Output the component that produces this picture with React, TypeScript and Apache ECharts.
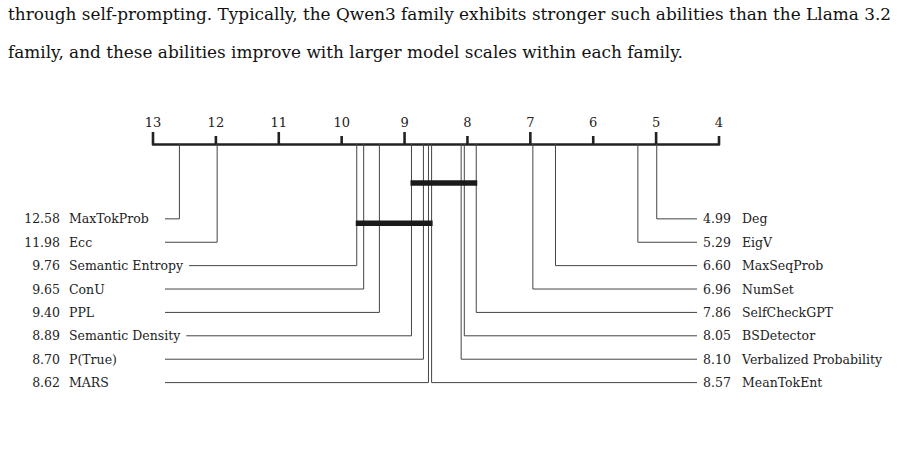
import React, { useEffect, useRef } from "react";
import * as echarts from "echarts";

// ---- data ----
const methods = [
  "MaxTokProb", "Ecc", "Semantic Entropy", "ConU", "PPL", "Semantic Density", "P(True)", "MARS",
  "MeanTokEnt", "Verbalized Probability", "BSDetector", "SelfCheckGPT", "NumSet", "MaxSeqProb", "EigV", "Deg",
];
const avgRanks = [12.58, 11.98, 9.76, 9.65, 9.40, 8.89, 8.70, 8.62, 8.57, 8.10, 8.05, 7.86, 6.96, 6.60, 5.29, 4.99];
const cliqueStart = [8.89, 9.76];
const cliqueEnd = [7.86, 8.57];
const tickValues = [13, 12, 11, 10, 9, 8, 7, 6, 5, 4];
const paragraphLines = [
  "through self-prompting. Typically, the Qwen3 family exhibits stronger such abilities than the Llama 3.2",
  "family, and these abilities improve with larger model scales within each family.",
];

const FONT = '"DejaVu Serif", serif';
const LABEL_SIZE = 12.5;

function measure(text: string, size: number, family: string) {
  const c = document.createElement("canvas");
  const ctx = c.getContext("2d")!;
  ctx.font = `${size}px ${family}`;
  return ctx.measureText(text).width;
}

export default function App() {
  const ref = useRef<HTMLDivElement>(null);
  useEffect(() => {
    const chart = echarts.init(ref.current!, null, { renderer: "svg" });
    const half = methods.length / 2;
    const ROW0 = 3.2; // row offset in y units below axis
    const rows: any[] = [];
    for (let i = 0; i < half; i++) {
      rows.push({ value: [avgRanks[i], ROW0 + i, 0, i] });
    }
    for (let i = 0; i < half; i++) {
      const k = methods.length - 1 - i;
      rows.push({ value: [avgRanks[k], ROW0 + i, 1, k] });
    }
    const cliques = cliqueStart.map((s, i) => ({ value: [s, cliqueEnd[i], 1.667 + i * 1.72] }));

    // fit paragraph font to its width
    const pSize = Math.min(17.5, 884 / measure(paragraphLines[0], 1, FONT));

    const option: any = {
      animation: false,
      backgroundColor: "#ffffff",
      grid: { left: 153, right: 179, top: 144, bottom: 31.3 },
      xAxis: {
        type: "value",
        min: 4,
        max: 13,
        interval: 1,
        inverse: true,
        position: "top",
        axisLine: { show: true, lineStyle: { color: "#222", width: 2.6 } },
        axisTick: { show: false },
        splitLine: { show: false },
        axisLabel: { show: true, margin: 15, color: "#222", fontFamily: FONT, fontSize: 13 },
      },
      yAxis: { type: "value", min: 0, max: 12, inverse: true, show: false },
      graphic: paragraphLines.map((t, i) => ({
        type: "text",
        left: 8,
        top: 5 + i * 38,
        style: { text: t, font: `${pSize}px ${FONT}`, fill: "#111" },
      })),
      series: [
        {
          type: "custom",
          name: "ticks",
          clip: false,
          silent: true,
          data: tickValues.map((v) => ({ value: [v, 0] })),
          renderItem: (params: any, api: any) => {
            const v = api.value(0);
            const p = api.coord([v, 0]);
            const len = Math.round(v) % 2 === 1 ? 12 : 8;
            return {
              type: "line",
              shape: { x1: p[0], y1: p[1], x2: p[0], y2: p[1] - len },
              style: { stroke: "#222", lineWidth: 2.6 },
            };
          },
        },
        {
          type: "custom",
          name: "connectors",
          clip: false,
          silent: true,
          data: rows,
          renderItem: (params: any, api: any) => {
            const rank = api.value(0);
            const row = api.value(1);
            const side = api.value(2);
            const idx = api.value(3);
            const top = api.coord([rank, 0]);
            const bend = api.coord([rank, row]);
            const y = bend[1];
            const num = avgRanks[idx].toFixed(2);
            const name = methods[idx];
            const font = `${LABEL_SIZE}px ${FONT}`;
            let xEnd: number;
            const children: any[] = [];
            if (side === 0) {
              const nameX = 69;
              const w = measure(name, LABEL_SIZE, FONT);
              xEnd = Math.max(165, nameX + w + 6);
              children.push({
                type: "text",
                style: { text: num, x: 60, y, align: "right", verticalAlign: "middle", font, fill: "#222" },
              });
              children.push({
                type: "text",
                style: { text: name, x: nameX, y, align: "left", verticalAlign: "middle", font, fill: "#222" },
              });
            } else {
              xEnd = 697;
              children.push({
                type: "text",
                style: { text: num, x: 703, y, align: "left", verticalAlign: "middle", font, fill: "#222" },
              });
              children.push({
                type: "text",
                style: { text: name, x: 742, y, align: "left", verticalAlign: "middle", font, fill: "#222" },
              });
            }
            children.unshift({
              type: "polyline",
              shape: { points: [[top[0], top[1]], [bend[0], y], [xEnd, y]] },
              style: { stroke: "#444", lineWidth: 1, fill: null },
            });
            return { type: "group", children };
          },
        },
        {
          type: "custom",
          name: "cliques",
          clip: false,
          silent: true,
          data: cliques,
          renderItem: (params: any, api: any) => {
            const a = api.coord([api.value(0), api.value(2)]);
            const b = api.coord([api.value(1), api.value(2)]);
            return {
              type: "line",
              shape: { x1: a[0] - 1, y1: a[1], x2: b[0] + 1, y2: b[1] },
              style: { stroke: "#1a1a1a", lineWidth: 5.5 },
            };
          },
        },
      ],
    };
    chart.setOption(option);
    return () => chart.dispose();
  }, []);
  return <div ref={ref} style={{ width: 898, height: 456, position: "absolute", left: 0, top: 0 }} />;
}
